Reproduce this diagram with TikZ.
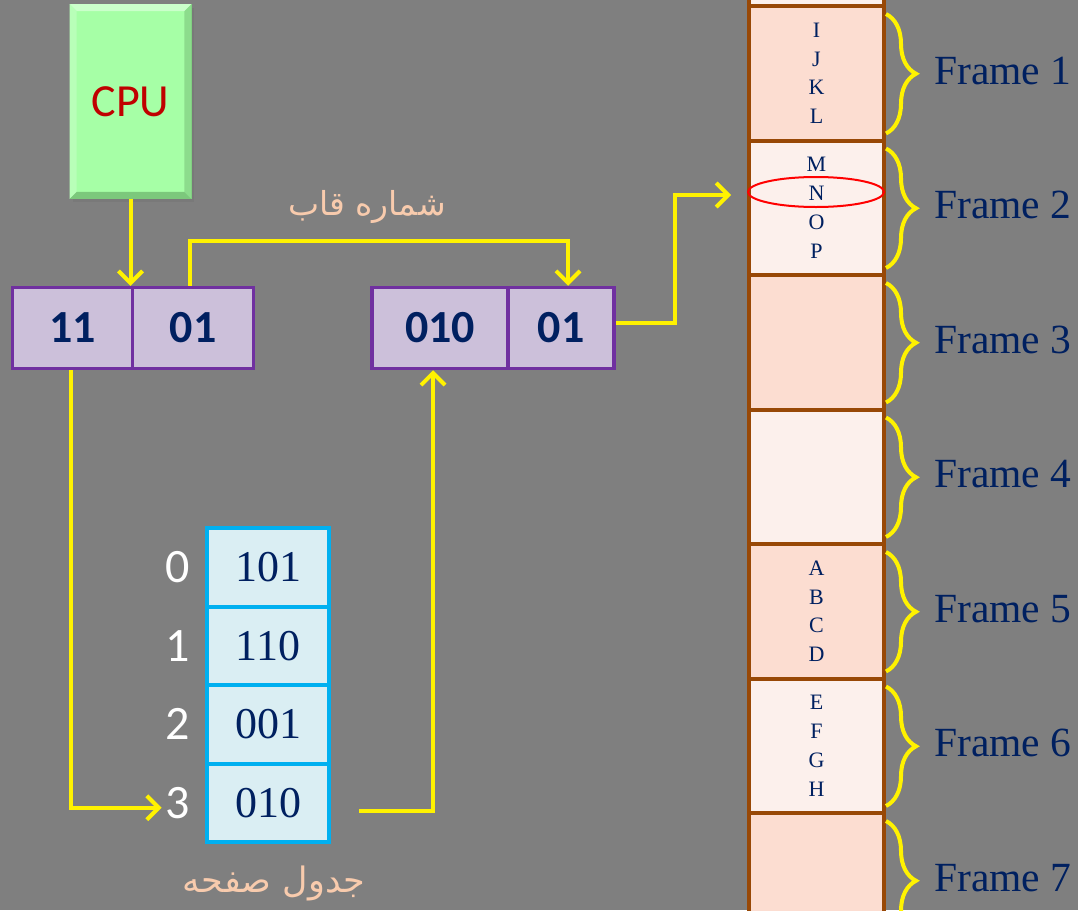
\documentclass[tikz,border=0pt]{standalone}
\usepackage{fontspec}
\setmainfont{Liberation Serif}
\newfontfamily\calfont{Carlito}
\newfontfamily\arabicfont[Script=Arabic]{DejaVu Sans}
\TeXXeTstate=1
\usetikzlibrary{arrows.meta,calc,decorations.pathreplacing,shapes.geometric}

\definecolor{bg}{HTML}{7F7F7F}
\definecolor{cpugreen}{HTML}{A6FFA6}
\definecolor{cpulight}{HTML}{CBFFCB}
\definecolor{cpumid}{HTML}{B8FFB8}
\definecolor{cpudark}{HTML}{8CDC8C}
\definecolor{cpudeep}{HTML}{7CC87C}
\definecolor{cpured}{HTML}{C00000}
\definecolor{navy}{HTML}{002060}
\definecolor{regfill}{HTML}{CCC0DA}
\definecolor{regline}{HTML}{7030A0}
\definecolor{ptfill}{HTML}{DAEEF3}
\definecolor{ptline}{HTML}{00B0F0}
\definecolor{framedark}{HTML}{FCDDD1}
\definecolor{framelight}{HTML}{FCF0EC}
\definecolor{memline}{HTML}{984806}
\definecolor{peach}{HTML}{F8CBAD}

\begin{document}
\begin{tikzpicture}[x=1pt,y=-1pt,
  cpubox/.style={minimum width=121pt,minimum height=194pt,inner sep=0pt,
    fill=cpugreen,draw=cpudeep,line width=0.8pt},
  regcell/.style={draw=regline,fill=regfill,line width=3.5pt,minimum height=81pt,
    inner sep=0pt,text=navy,font=\calfont\bfseries\fontsize{46}{52}\selectfont},
  ptcell/.style={draw=ptline,fill=ptfill,line width=4pt,minimum width=122pt,
    minimum height=78.5pt,inner sep=0pt,text=navy,font=\fontsize{44}{50}\selectfont},
  idx/.style={text=white,inner sep=0pt,font=\calfont\fontsize{48}{54}\selectfont},
  memcell/.style={draw=memline,line width=4pt,minimum width=135pt,minimum height=134.5pt,
    inner sep=0pt,align=center,text=navy,font=\fontsize{22}{28.7}\selectfont},
  framelabel/.style={text=navy,inner sep=0pt,font=\fontsize{41.5}{48}\selectfont},
  arlabel/.style={text=peach,inner sep=0pt,font=\arabicfont},
  yarrow/.style={draw=yellow,line width=4pt,-{Straight Barb[length=12pt,width=24pt]}},
  ybrace/.style={draw=yellow,line width=4pt,decorate,
    decoration={brace,amplitude=30pt}},
  pick/.style={ellipse,draw=red,line width=2pt,minimum width=136pt,minimum height=30pt,inner sep=0pt}
]
\useasboundingbox (0,0) rectangle (1078,910);
\fill[bg] (0,0) rectangle (1078,910);
\clip (0,0) rectangle (1078,910);

% ---- CPU with bevelled edges ----
\fill[black!55,opacity=0.45] (73,8) rectangle (194,202);
\node[cpubox] (cpu) at (130.5,101.5) {};
\fill[cpulight] (cpu.north west) -- (cpu.north east) -- ([shift={(-7pt,-7pt)}]cpu.north east) -- ([shift={(7pt,-7pt)}]cpu.north west) -- cycle;
\fill[cpumid] (cpu.north west) -- ([shift={(7pt,-7pt)}]cpu.north west) -- ([shift={(7pt,7pt)}]cpu.south west) -- (cpu.south west) -- cycle;
\fill[cpudark] (cpu.north east) -- ([shift={(-7pt,-7pt)}]cpu.north east) -- ([shift={(-7pt,7pt)}]cpu.south east) -- (cpu.south east) -- cycle;
\fill[cpudeep] (cpu.south west) -- ([shift={(7pt,7pt)}]cpu.south west) -- ([shift={(-7pt,7pt)}]cpu.south east) -- (cpu.south east) -- cycle;
\node[text=cpured,font=\calfont\fontsize{46}{54}\selectfont] (cputext) at (cpu.center) {CPU};

% ---- logical address register ----
\node[regcell,minimum width=120pt] (r1a) at (72.5,328) {11};
\node[regcell,minimum width=121pt] (r1b) at (193,328) {01};

% ---- physical address register ----
\node[regcell,minimum width=136pt] (r2a) at (440,328) {010};
\node[regcell,minimum width=106pt] (r2b) at (561,328) {01};

% ---- page table ----
\node[ptcell] (pt0) at (268,567.25) {101};
\node[ptcell] (pt1) at (268,645.75) {110};
\node[ptcell] (pt2) at (268,724.25) {001};
\node[ptcell] (pt3) at (268,802.75) {010};
\node[idx] (idx0) at (178,567.25) {0};
\node[idx] (idx1) at (178,645.75) {1};
\node[idx] (idx2) at (178,724.25) {2};
\node[idx] (idx3) at (178,802.75) {3};

% ---- physical memory frames ----
\foreach \k/\txt in {0/{},1/{I\\J\\K\\L},2/{M\\N\\O\\P},3/{},4/{},5/{A\\B\\C\\D},6/{E\\F\\G\\H},7/{}}{
  \pgfmathsetmacro\cy{6+134.5*(\k-1)+67.25}
  \ifodd\k\def\fc{framedark}\else\def\fc{framelight}\fi
  \node[memcell,fill=\fc] (f\k) at (816.5,\cy) {\txt};
}
\foreach \k in {1,...,7}{
  \draw[ybrace] ([yshift=-10pt]f\k.north east) -- ([yshift=9pt]f\k.south east);
  \node[framelabel,anchor=base west] (lab\k) at ([xshift=48pt,yshift=-80pt]f\k.north east) {Frame \k};
}
\node[pick] (ell) at (816,192) {};

% ---- labels ----
\node[arlabel,font=\arabicfont\fontsize{33}{38}\selectfont] (lblframe) at (367,207) {\beginR شماره قاب\endR};
\node[arlabel,font=\arabicfont\fontsize{35}{40}\selectfont] (lbltable) at (274,883) {\beginR جدول صفحه\endR};

% ---- connectors ----
\draw[yarrow] (cpu.south) -- (cpu.south |- r1a.north);
\draw[yarrow] ([xshift=-3pt]r1b.north) -- ++(0,-45) -| ([xshift=7pt]r2b.north);
\draw[yarrow] ([yshift=5pt]r2b.east) -- ++(59,0) |- ([xshift=-16pt,yshift=-3pt]ell.west);
\draw[yarrow] ([xshift=-2pt]r1a.south) |- ([xshift=-4pt,yshift=-5pt]idx3.west);
\draw[yarrow] ([xshift=28pt,yshift=-8pt]pt3.east) -| ([xshift=-7pt]r2a.south);
\end{tikzpicture}
\end{document}
